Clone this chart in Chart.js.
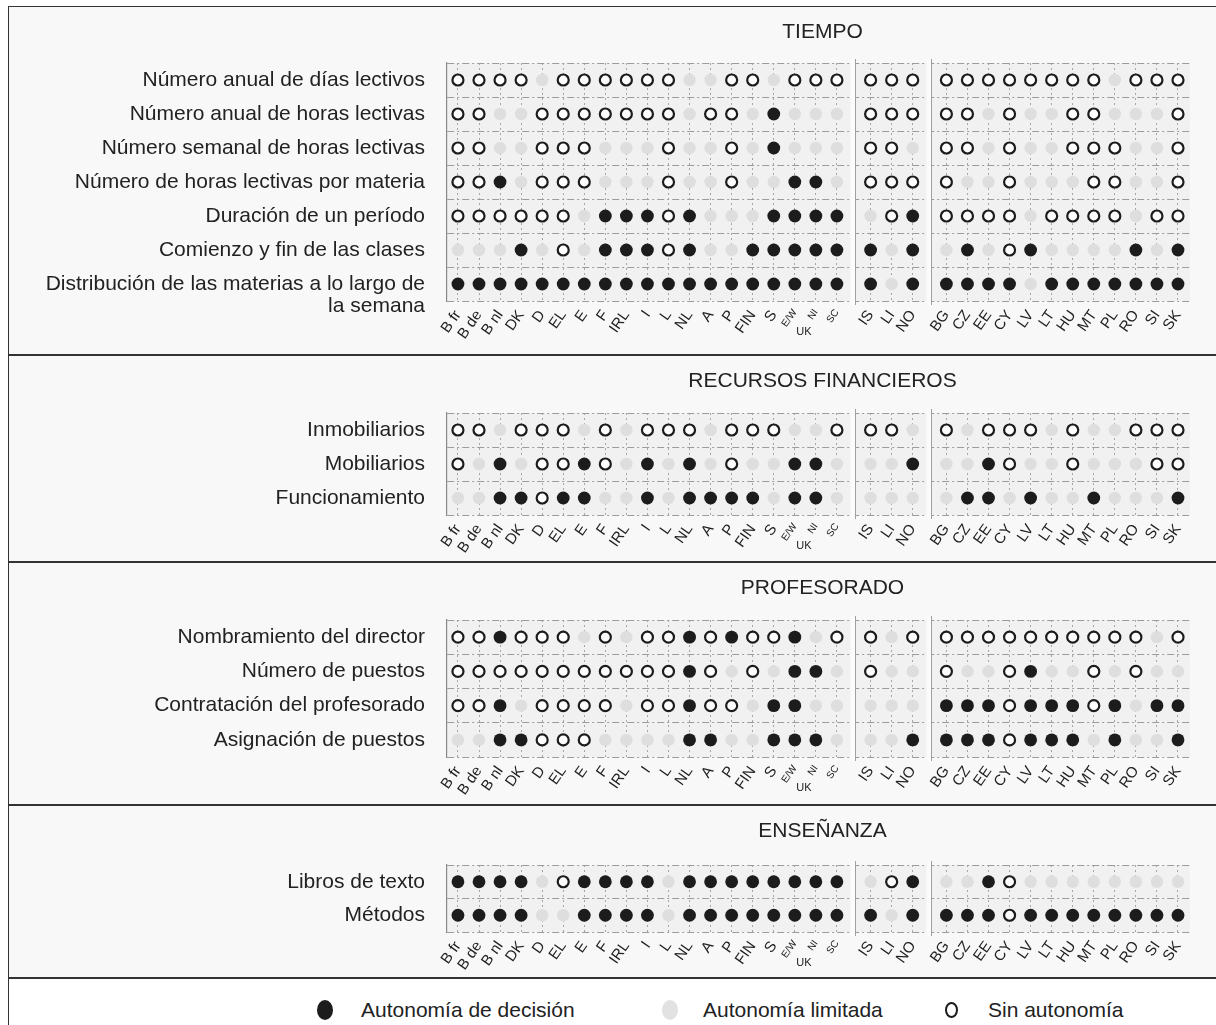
<!DOCTYPE html>
<html lang="es">
<head>
<meta charset="utf-8">
<title>Autonomía de los centros escolares</title>
<script src="https://cdn.jsdelivr.net/npm/chart.js@4/dist/chart.umd.min.js"></script>
<style>
  html, body { margin: 0; padding: 0; background: #fff; }
  body { width: 1216px; height: 1025px; position: relative; overflow: hidden;
         font-family: "Liberation Sans", Arial, sans-serif; color: #222; }
  #frame { position: absolute; left: 8px; top: 6px; width: 1220px; height: 1030px;
           border-left: 1.5px solid #333; border-top: 1.5px solid #333; }
  .panel { position: absolute; left: 9px; width: 1207px; background: #f8f8f8;
           border-bottom: 2px solid #333; }
  .panel canvas { display: block; }
  .dot { position: absolute; border-radius: 50%; box-sizing: border-box; }
  .lt { position: absolute; font-size: 21px; line-height: 22px; white-space: nowrap; }
</style>
</head>
<body>
<div id="frame"></div>
<div class="panel" style="top:7px;height:347px"><canvas id="c1" width="1207" height="347"></canvas></div>
<div class="panel" style="top:356px;height:205px"><canvas id="c2" width="1207" height="205"></canvas></div>
<div class="panel" style="top:563px;height:241px"><canvas id="c3" width="1207" height="241"></canvas></div>
<div class="panel" style="top:806px;height:171px"><canvas id="c4" width="1207" height="171"></canvas></div>

<div class="dot" style="left:317px;top:1000px;width:16px;height:20px;background:#1c1c1c"></div>
<div class="lt" style="left:361px;top:999px">Autonomía de decisión</div>
<div class="dot" style="left:662px;top:1000px;width:16px;height:20px;background:#e2e2e2"></div>
<div class="lt" style="left:703px;top:999px">Autonomía limitada</div>
<div class="dot" style="left:945px;top:1002px;width:13px;height:16px;border:2px solid #1c1c1c;background:#fff"></div>
<div class="lt" style="left:988px;top:999px">Sin autonomía</div>

<script>
// 2 = autonomía de decisión, 1 = autonomía limitada, 0 = sin autonomía
const countries = ['B fr','B de','B nl','DK','D','EL','E','F','IRL','I','L','NL','A','P','FIN','S','E/W','NI','SC',
                   'IS','LI','NO',
                   'BG','CZ','EE','CY','LV','LT','HU','MT','PL','RO','SI','SK'];
const groupSizes = [19, 3, 12];
const smallLabels = ['E/W', 'NI', 'SC'];

const tiempoRows = ['Número anual de días lectivos', 'Número anual de horas lectivas',
  'Número semanal de horas lectivas', 'Número de horas lectivas por materia',
  'Duración de un período', 'Comienzo y fin de las clases',
  ['', 'Distribución de las materias a lo largo de', 'la semana']];
const tiempo = [
  [0,0,0,0,1,0,0,0,0,0,0,1,1,0,0,1,0,0,0, 0,0,0, 0,0,0,0,0,0,0,0,1,0,0,0],
  [0,0,1,1,0,0,0,0,0,0,0,1,0,0,1,2,1,1,1, 0,0,0, 0,0,1,0,1,1,0,0,1,1,1,0],
  [0,0,1,1,0,0,0,1,1,1,0,1,1,0,1,2,1,1,1, 0,0,1, 0,0,1,0,1,1,0,0,0,1,1,0],
  [0,0,2,1,0,0,0,1,1,1,0,1,1,0,1,1,2,2,1, 0,0,0, 0,1,1,0,1,1,1,0,0,1,1,0],
  [0,0,0,0,0,0,1,2,2,2,0,2,1,1,1,2,2,2,2, 1,0,2, 0,0,0,0,1,0,0,0,0,1,0,0],
  [1,1,1,2,1,0,1,2,2,2,0,2,1,1,2,2,2,2,2, 2,1,2, 1,2,1,0,2,1,1,1,1,2,1,2],
  [2,2,2,2,2,2,2,2,2,2,2,2,2,2,2,2,2,2,2, 2,1,2, 2,2,2,2,1,2,2,2,2,2,2,2]
];

const recursosRows = ['Inmobiliarios', 'Mobiliarios', 'Funcionamiento'];
const recursos = [
  [0,0,1,0,0,0,1,0,1,0,0,0,1,0,0,0,1,1,0, 0,0,1, 0,1,0,0,0,1,0,1,1,0,0,0],
  [0,1,2,1,0,0,2,0,1,2,1,2,1,0,1,1,2,2,1, 1,1,2, 1,1,2,0,1,1,0,1,1,1,0,0],
  [1,1,2,2,0,2,2,1,1,2,1,2,2,2,2,1,2,2,1, 1,1,1, 1,2,2,1,2,1,1,2,1,1,1,2]
];

const profesoradoRows = ['Nombramiento del director', 'Número de puestos',
  'Contratación del profesorado', 'Asignación de puestos'];
const profesorado = [
  [0,0,2,0,0,0,1,0,1,0,0,2,0,2,0,0,2,1,0, 0,1,0, 0,0,0,0,0,0,0,0,0,0,1,0],
  [0,0,0,0,0,0,0,0,0,0,0,2,0,1,0,1,2,2,1, 0,1,1, 0,1,1,0,2,1,1,0,1,0,1,1],
  [0,0,2,1,0,0,0,0,1,0,0,2,0,0,1,2,2,1,1, 1,1,1, 2,2,2,0,2,2,2,0,2,1,2,2],
  [1,1,2,2,0,0,0,1,1,1,1,2,2,1,1,2,2,2,1, 1,1,2, 2,2,2,0,2,2,2,1,2,1,1,2]
];

const ensenanzaRows = ['Libros de texto', 'Métodos'];
const ensenanza = [
  [2,2,2,2,1,0,2,2,2,2,1,2,2,2,2,2,2,2,2, 1,0,2, 1,1,2,0,1,1,1,1,1,1,1,1],
  [2,2,2,2,1,1,2,2,2,2,1,2,2,2,2,2,2,2,2, 2,1,2, 2,2,2,0,2,2,2,2,2,2,2,2]
];

const FONT = '"Liberation Sans", Arial, sans-serif';
const INK = '#1c1c1c';

// column positions: one unit per country, a gap between the country groups
const GAP = 0.6;
const xPos = [];
let start = 0;
groupSizes.forEach((n, gi) => {
  for (let i = 0; i < n; i++) xPos.push(start + i + gi * GAP);
  start += n;
});
const separators = [(xPos[18] + xPos[19]) / 2, (xPos[21] + xPos[22]) / 2];

function points(values, code) {
  const pts = [];
  values.forEach((row, r) => row.forEach((v, c) => {
    if (v === code) pts.push({ x: xPos[c], y: r });
  }));
  return pts;
}

const panelDecor = {
  id: 'panelDecor',
  beforeDraw(chart, args, opts) {
    const { ctx, chartArea: a } = chart;
    ctx.save();
    ctx.fillStyle = '#f1f1f1';
    ctx.fillRect(a.left, a.top, a.right - a.left, a.bottom - a.top);
    ctx.fillStyle = '#222';
    ctx.font = '21px ' + FONT;
    ctx.textAlign = 'center';
    ctx.textBaseline = 'middle';
    ctx.fillText(opts.title, (a.left + a.right) / 2 + 4, opts.titleY);
    ctx.restore();
  },
  beforeDatasetsDraw(chart) {
    const { ctx, chartArea: a, scales: { x } } = chart;
    ctx.save();
    separators.forEach(v => {
      const px = Math.round(x.getPixelForValue(v)) + 0.5;
      ctx.fillStyle = '#fbfbfb';
      ctx.fillRect(px - 4, a.top - 4, 5, a.bottom - a.top + 8);
      ctx.strokeStyle = '#a0a0a0';
      ctx.lineWidth = 1;
      ctx.beginPath();
      ctx.moveTo(px + 1, a.top - 4);
      ctx.lineTo(px + 1, a.bottom + 4);
      ctx.stroke();
    });
    ctx.restore();
  },
  afterDraw(chart) {
    const { ctx, chartArea: a, scales: { x } } = chart;
    ctx.save();
    ctx.fillStyle = '#222';
    ctx.font = '11px ' + FONT;
    ctx.textAlign = 'center';
    ctx.textBaseline = 'middle';
    ctx.fillText('UK', x.getPixelForValue(xPos[17]) - 12, a.bottom + 31);
    ctx.restore();
  }
};

function drawPanel(id, title, rows, values, top, axisH) {
  const n = rows.length;
  const yTicks = [];
  for (let k = 0; k <= 2 * n; k++) yTicks.push(k / 2 - 0.5);

  new Chart(document.getElementById(id), {
    type: 'scatter',
    data: {
      datasets: [
        { label: 'Autonomía de decisión', data: points(values, 2),
          pointRadius: 6.4, backgroundColor: INK, borderColor: INK, borderWidth: 0 },
        { label: 'Autonomía limitada', data: points(values, 1),
          pointRadius: 6.2, backgroundColor: '#dedede', borderColor: '#dedede', borderWidth: 0 },
        { label: 'Sin autonomía', data: points(values, 0),
          pointRadius: 5.5, backgroundColor: '#fdfdfd', borderColor: INK, borderWidth: 2.2 }
      ]
    },
    options: {
      responsive: false,
      animation: false,
      events: [],
      clip: false,
      layout: { padding: { top: top, right: 26, left: 0, bottom: 0 } },
      plugins: {
        legend: { display: false },
        tooltip: { enabled: false },
        panelDecor: { title: title, titleY: 25 }
      },
      scales: {
        x: {
          type: 'linear',
          min: -0.52, max: 34.77,
          afterBuildTicks: s => { s.ticks = xPos.map(v => ({ value: v })); },
          afterFit: s => { s.height = axisH; },
          border: { display: false, dash: [2, 3] },
          grid: { color: '#a6a6a6', lineWidth: 1, drawTicks: false },
          ticks: {
            autoSkip: false,
            minRotation: 55, maxRotation: 55,
            padding: 6,
            color: '#222',
            font: c => smallLabels.includes(countries[c.index])
              ? { family: FONT, size: 10 } : { family: FONT, size: 15 },
            callback: (v, i) => countries[i]
          }
        },
        y: {
          type: 'linear',
          reverse: true,
          min: -0.5, max: n - 0.5,
          afterBuildTicks: s => { s.ticks = yTicks.map(v => ({ value: v })); },
          afterFit: s => { s.width = 438; },
          border: { display: true, color: '#8a8a8a', width: 1.2, dash: [7, 3, 2, 3] },
          grid: {
            drawTicks: false,
            lineWidth: 1,
            color: c => (c.tick && Math.abs(c.tick.value % 1) > 0.01) ? '#9c9c9c' : 'rgba(0,0,0,0)'
          },
          ticks: {
            autoSkip: false,
            padding: 22,
            color: '#222',
            font: { family: FONT, size: 21, lineHeight: 1.05 },
            callback: v => Number.isInteger(v) ? rows[v] : ''
          }
        }
      }
    },
    plugins: [panelDecor]
  });
}

drawPanel('c1', 'TIEMPO', tiempoRows, tiempo, 56, 53);
drawPanel('c2', 'RECURSOS FINANCIEROS', recursosRows, recursos, 57, 46);
drawPanel('c3', 'PROFESORADO', profesoradoRows, profesorado, 57, 47);
drawPanel('c4', 'ENSEÑANZA', ensenanzaRows, ensenanza, 59, 45);
</script>
</body>
</html>
